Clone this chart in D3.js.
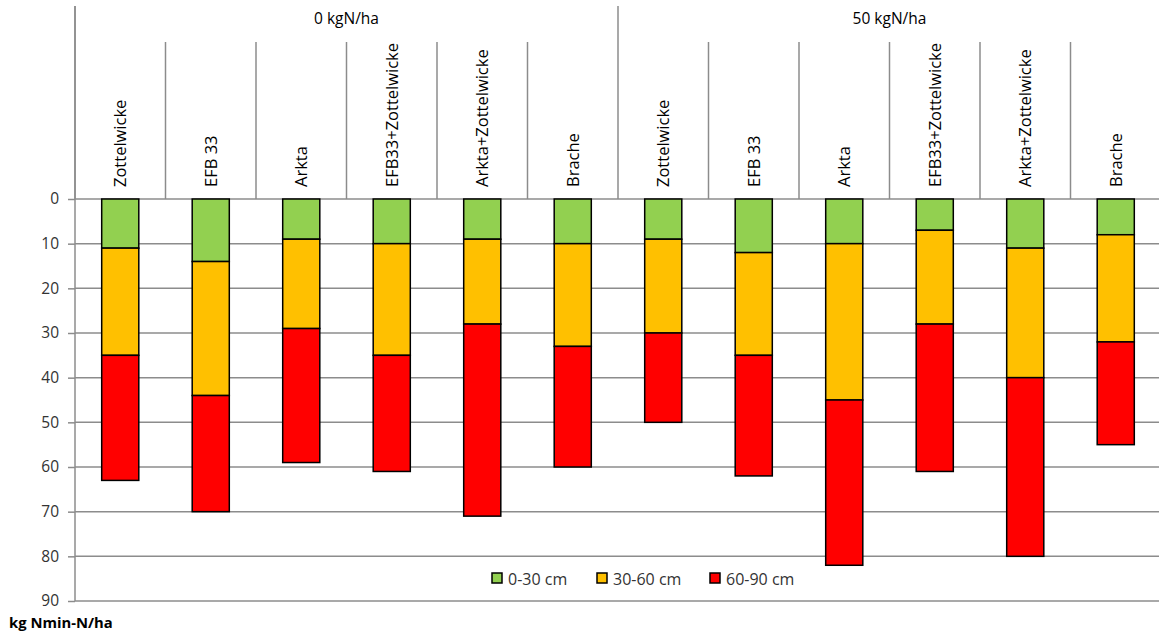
<!DOCTYPE html>
<html>
<head>
<meta charset="utf-8">
<script src="https://cdn.jsdelivr.net/npm/d3@7"></script>
<style>
  html, body { margin: 0; padding: 0; background: #fff; }
  svg { display: block; font-family: "Open Sans", "Noto Sans", sans-serif; }
</style>
</head>
<body>
<svg id="chart" width="1159" height="632"></svg>
<script>
// ---- data ----
const groups = ["0 kgN/ha", "50 kgN/ha"];
const categories = ["Zottelwicke", "EFB 33", "Arkta", "EFB33+Zottelwicke", "Arkta+Zottelwicke", "Brache"];
const seriesNames = ["0-30 cm", "30-60 cm", "60-90 cm"];
const depth0to30  = [11, 14, 9, 10, 9, 10,   9, 12, 10, 7, 11, 8];
const depth30to60 = [24, 30, 20, 25, 19, 23,  21, 23, 35, 21, 29, 24];
const depth60to90 = [28, 26, 30, 26, 43, 27,  20, 27, 37, 33, 40, 23];
const yTicks = [0, 10, 20, 30, 40, 50, 60, 70, 80, 90];
const yLabel = "kg Nmin-N/ha";
const colors = ["#92D050", "#FFC000", "#FF0000"];

// ---- build table ----
const rows = [];
groups.forEach((g, gi) => categories.forEach((c, ci) => {
  const i = gi * categories.length + ci;
  rows.push({ key: gi + "|" + c, group: g, cat: c,
    [seriesNames[0]]: depth0to30[i], [seriesNames[1]]: depth30to60[i], [seriesNames[2]]: depth60to90[i] });
}));

const svg = d3.select("#chart");
const left = 75, right = 1161, top0 = 199, bottom = 601;

const x = d3.scaleBand().domain(rows.map(r => r.key)).range([left, right])
  .paddingInner(0.59).paddingOuter(0.295);
const y = d3.scaleLinear().domain([0, 90]).range([top0, bottom]);
const step = x.step();
const gridColor = "#8c8c8c";

// gridlines
svg.append("g").selectAll("line").data(yTicks).join("line")
  .attr("x1", left).attr("x2", 1159)
  .attr("y1", d => y(d)).attr("y2", d => y(d))
  .attr("stroke", gridColor).attr("stroke-width", 1.5);

// y axis
const yAxis = d3.axisLeft(y).tickValues(yTicks).tickSize(7).tickPadding(9);
const ga = svg.append("g").attr("transform", `translate(${left},0)`).call(yAxis);
ga.select(".domain").remove();
ga.selectAll(".tick line").attr("stroke", gridColor).attr("stroke-width", 1.5);
ga.selectAll(".tick text").attr("fill", "#333").style("font-size", "15.5px")
  .style("font-family", "'Open Sans', sans-serif");
svg.append("line").attr("x1", left).attr("x2", left).attr("y1", 6).attr("y2", bottom)
  .attr("stroke", gridColor).attr("stroke-width", 1.5);

// category separators & labels
const catBoundary = key => x(key) - (step - x.bandwidth()) / 2;
svg.append("g").selectAll("line").data(rows.filter((r, i) => i % categories.length !== 0)).join("line")
  .attr("x1", d => catBoundary(d.key)).attr("x2", d => catBoundary(d.key))
  .attr("y1", 42).attr("y2", top0)
  .attr("stroke", gridColor).attr("stroke-width", 1.5);
svg.append("g").selectAll("line").data(rows.filter((r, i) => i % categories.length === 0)).join("line")
  .attr("x1", d => catBoundary(d.key)).attr("x2", d => catBoundary(d.key))
  .attr("y1", 6).attr("y2", top0)
  .attr("stroke", gridColor).attr("stroke-width", 1.5);

svg.append("g").selectAll("text").data(rows).join("text")
  .attr("transform", d => `translate(${x(d.key) + x.bandwidth() / 2 + 6},187) rotate(-90)`)
  .attr("text-anchor", "start")
  .style("font-size", "16.5px").attr("fill", "#000")
  .text(d => d.cat);

// group labels
svg.append("g").selectAll("text").data(groups).join("text")
  .attr("x", (g, gi) => {
    const k0 = gi + "|" + categories[0], k1 = gi + "|" + categories[categories.length - 1];
    return (catBoundary(k0) + catBoundary(k1) + step) / 2;
  })
  .attr("y", 24).attr("text-anchor", "middle")
  .style("font-size", "15.5px").attr("fill", "#000")
  .text(d => d);

// stacked bars
const stack = d3.stack().keys(seriesNames);
const stacked = stack(rows);
svg.append("g").selectAll("g").data(stacked).join("g")
  .attr("fill", (d, i) => colors[i])
  .selectAll("rect").data(d => d).join("rect")
  .attr("x", d => x(d.data.key))
  .attr("width", x.bandwidth())
  .attr("y", d => y(d[0]))
  .attr("height", d => y(d[1]) - y(d[0]))
  .attr("stroke", "#000").attr("stroke-width", 1.5);

// legend
const legendX = [492, 597, 710];
const lg = svg.append("g").selectAll("g").data(seriesNames).join("g")
  .attr("transform", (d, i) => `translate(${legendX[i]},573)`);
lg.append("rect").attr("width", 10).attr("height", 10)
  .attr("fill", (d, i) => colors[i]).attr("stroke", "#000").attr("stroke-width", 1.5);
lg.append("text").attr("x", 16).attr("y", 11.5)
  .style("font-size", "16px").attr("fill", "#333").text(d => d);

// y label
svg.append("text").attr("x", 9).attr("y", 627.5)
  .style("font-size", "14.8px").style("font-weight", "bold").attr("fill", "#000")
  .text(yLabel);
</script>
</body>
</html>
